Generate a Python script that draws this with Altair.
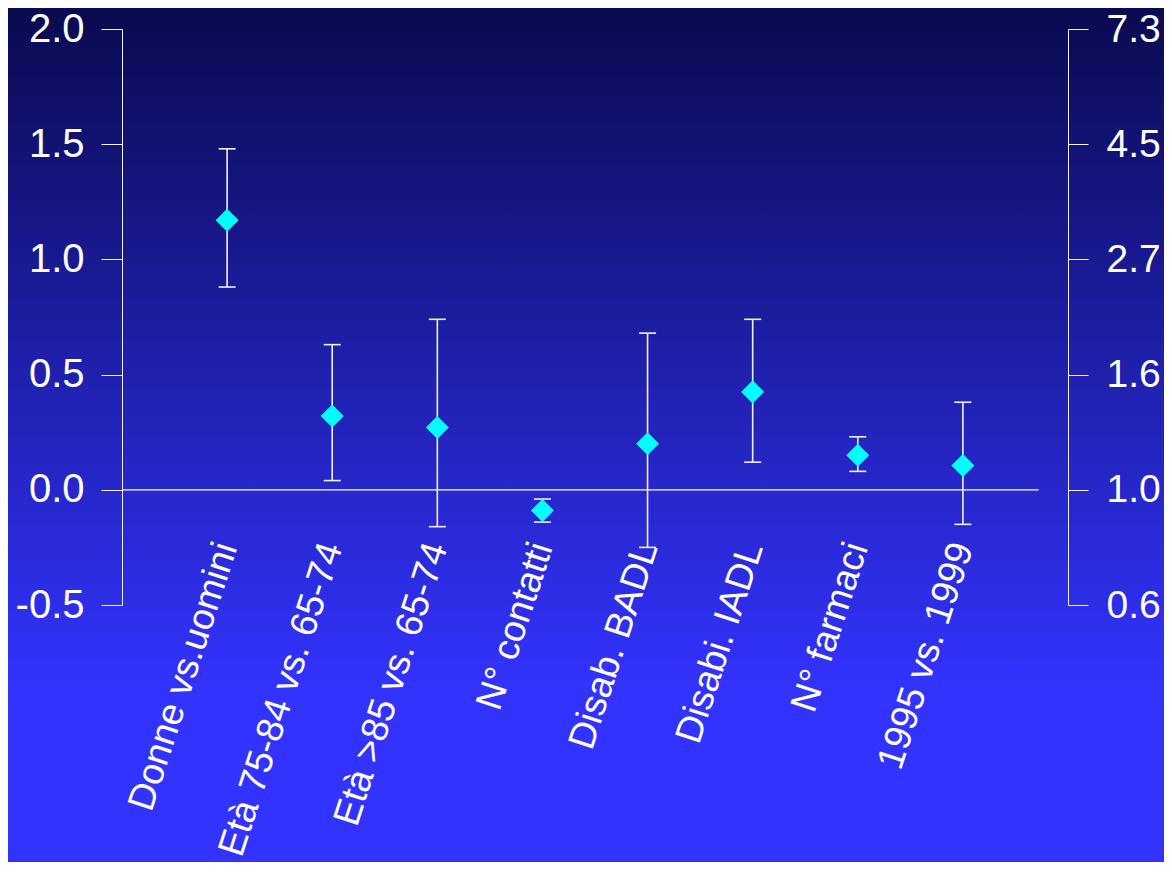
import altair as alt
import pandas as pd

categories = ["Donne vs.uomini", "Età 75-84 vs. 65-74", "Età >85 vs. 65-74", "N° contatti",
              "Disab. BADL", "Disabi. IADL", "N° farmaci", "1995 vs. 1999"]
estimate = [1.17, 0.32, 0.27, -0.09, 0.20, 0.425, 0.15, 0.105]
lower = [0.88, 0.04, -0.16, -0.14, -0.25, 0.12, 0.08, -0.15]
upper = [1.48, 0.63, 0.74, -0.04, 0.68, 0.74, 0.23, 0.38]
left_ticks = [-0.5, 0.0, 0.5, 1.0, 1.5, 2.0]
right_labels = ["0.6", "1.0", "1.6", "2.7", "4.5", "7.3"]

df = pd.DataFrame({
    "pos": list(range(1, len(categories) + 1)),
    "cat": categories,
    "est": estimate,
    "lo": lower,
    "hi": upper,
})

W, H = 946, 576
PL, PT, PR, PB = 114, 21, 96, 257
FONT = "Liberation Sans"

xsc = alt.Scale(domain=[0, 9], nice=False, zero=False)
ysc = alt.Scale(domain=[-0.5, 2.0], nice=False, zero=False)

axis_common = dict(
    values=left_ticks, grid=False, title=None, tickWidth=1, domainWidth=1,
    domainColor="#f0f0ff", tickColor="#f0f0ff", labelColor="white", labelFont=FONT,
    zindex=1, labelOverlap=False,
)
left_axis = alt.Axis(orient="left", labelPadding=17, tickSize=21, labelFontSize=40,
                     labelExpr="replace(format(datum.value, '.1f'), '−', '-')", **axis_common)
mapping = "{" + ",".join(f"'{round(v * 10)}':'{l}'" for v, l in zip(left_ticks, right_labels)) + "}"
right_axis = alt.Axis(orient="right", labelPadding=18, tickSize=20, labelFontSize=39,
                      labelExpr=f"{mapping}[''+round(datum.value*10)]", **axis_common)

grad = alt.LinearGradient(
    gradient="linear",
    stops=[alt.GradientStop(color="#0a0a50", offset=0),
           alt.GradientStop(color="#3333ff", offset=0.8),
           alt.GradientStop(color="#3333ff", offset=1)],
    x1=0, x2=0, y1=0, y2=1,
)

bg = alt.Chart(pd.DataFrame({"a": [0]})).mark_rect(fill=grad).encode(
    x=alt.value(-PL), x2=alt.value(W + PR), y=alt.value(-PT), y2=alt.value(H + PB)
)

base = alt.Chart(df)

zero = base.transform_filter("datum.pos == 1").mark_rule(color="white", strokeWidth=1.2).encode(
    x=alt.XDatum(0, scale=xsc, axis=None),
    x2=alt.X2Datum(8.72),
    y=alt.YDatum(0, scale=ysc, axis=right_axis),
)

bars = base.mark_rule(color="#f0f0f8", strokeWidth=1.6).encode(
    x=alt.X("pos:Q", scale=xsc, axis=None),
    y=alt.Y("lo:Q", scale=ysc, axis=None),
    y2="hi:Q",
)

cap_lo = base.mark_tick(orient="horizontal", size=17, thickness=1.6, color="#f0f0f8", opacity=1).encode(
    x=alt.X("pos:Q", scale=xsc, axis=None),
    y=alt.Y("lo:Q", scale=ysc, axis=None),
)
cap_hi = base.mark_tick(orient="horizontal", size=17, thickness=1.6, color="#f0f0f8", opacity=1).encode(
    x=alt.X("pos:Q", scale=xsc, axis=None),
    y=alt.Y("hi:Q", scale=ysc, axis=None),
)

points = base.mark_point(shape="diamond", filled=True, size=530, color="#00ffff", opacity=1).encode(
    x=alt.X("pos:Q", scale=xsc, axis=None),
    y=alt.Y("est:Q", scale=ysc, axis=left_axis),
)

labels = base.mark_text(angle=288, align="right", baseline="middle", fontSize=37.5, font=FONT,
                        color="white").encode(
    x=alt.X("pos:Q", scale=xsc, axis=None),
    y=alt.YDatum(-0.235, scale=ysc, axis=None),
    text="cat:N",
)

chart = alt.layer(bg, zero, bars, cap_lo, cap_hi, points, labels).resolve_scale(
    y="independent"
).resolve_axis(y="independent").properties(
    width=W, height=H,
    autosize=alt.AutoSizeParams(type="none"),
    padding={"left": PL, "top": PT, "right": PR, "bottom": PB},
).configure_view(stroke=None)

chart.save("out.html", embed_options={"renderer": "svg", "actions": False})
